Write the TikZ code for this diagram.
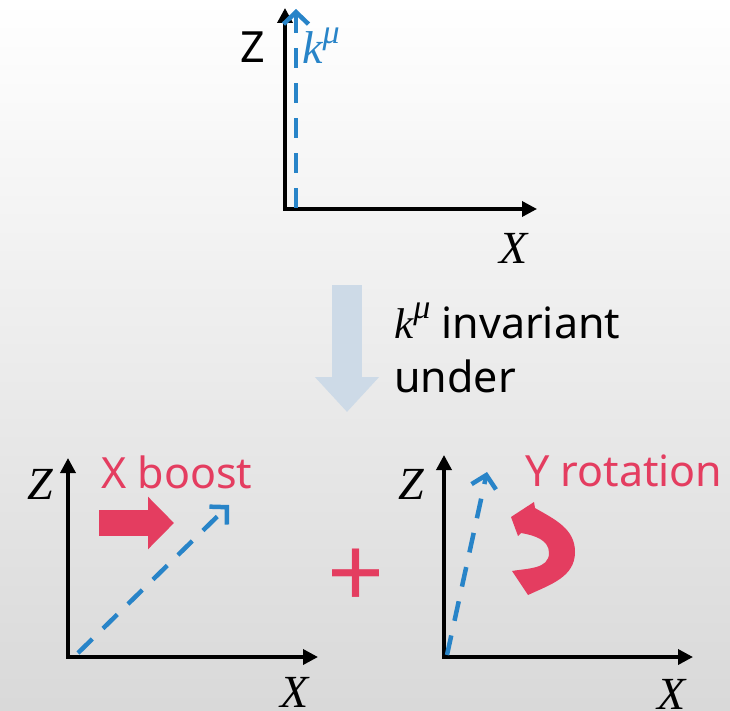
\documentclass[tikz,border=0pt]{standalone}
\usepackage{fontspec}
\setmainfont{Noto Sans}
\newfontfamily\ital{Liberation Serif}
\usetikzlibrary{arrows.meta,positioning}
\definecolor{ink}{gray}{0.0}
\definecolor{vecblue}{RGB}{40,132,200}
\definecolor{hot}{RGB}{228,61,96}
\definecolor{pale}{RGB}{205,218,231}
\definecolor{bgbot}{gray}{0.85}
\tikzset{
  axes/.style={draw=ink, line width=3.5pt, line join=miter,
               {Triangle[length=15pt,width=15pt]}-{Triangle[length=15pt,width=15pt]}},
  vec/.style={draw=vecblue, line width=4.5pt, dash pattern=on 20pt off 15pt,
              -{Straight Barb[length=12pt,width=25pt]}},
  sans/.style={font=\fontsize{43}{54}\selectfont, inner sep=0pt},
  var/.style={font=\fontsize{46}{50}\selectfont\ital\itshape, inner sep=0pt},
  tag/.style={sans, text=hot},
}
\newcommand{\kmu}{{\ital\itshape k\raisebox{0.45em}{\fontsize{34}{34}\selectfont μ}}}

\begin{document}
\begin{tikzpicture}[x=1pt, y=1pt]
  \fill[top color=white, bottom color=bgbot] (0,0) rectangle (730,-711);
  \useasboundingbox (0,0) rectangle (730,-711);

  % top frame
  \coordinate (o1) at (285,-209);
  \coordinate (z1) at (285,-8);
  \coordinate (x1) at (537,-209);
  \coordinate (k0) at (296,-208);
  \coordinate (k1) at (296,-9);
  \draw[axes] (z1) -- (o1) -- (x1);
  \draw[vec] (k0) -- (k1);
  \node[sans] (zt) at (253,-47) {Z};
  \node[var, text=vecblue, anchor=base west] (kt) at (302,-64) {\kmu};
  \node[var] (xt) at (514,-248) {X};

  % down arrow + caption
  \coordinate (a0) at (347,-285);
  \coordinate (a1) at (347,-412);
  \draw[pale, line width=30pt, -{Triangle[length=35pt,width=62pt]}] (a0) -- (a1);
  \node[sans, anchor=base west, align=left] (inv) at (394,-392) {\kmu{} invariant\\under};

  % boost frame
  \coordinate (o2) at (68,-657);
  \coordinate (z2) at (68,-458);
  \coordinate (x2) at (318,-657);
  \coordinate (b0) at (78,-653);
  \coordinate (b1) at (229,-505);
  \draw[axes] (z2) -- (o2) -- (x2);
  \draw[vec] (b0) -- (b1);
  \node[var] (zl) at (40,-484) {Z};
  \node[var] (xl) at (295,-692) {X};
  \node[tag, anchor=base west] (boost) at (101,-488) {X boost};
  \coordinate (p0) at (99,-523);
  \coordinate (p1) at (174,-523);
  \draw[hot, line width=26pt, -{Triangle[length=26pt,width=51pt]}] (p0) -- (p1);

  \node[tag, font=\fontsize{100}{100}\selectfont] (plus) at (356,-579) {+};

  % rotation frame
  \coordinate (o3) at (444,-657);
  \coordinate (z3) at (444,-455);
  \coordinate (x3) at (693,-657);
  \coordinate (r0) at (447,-655);
  \coordinate (r1) at (487,-472);
  \draw[axes] (z3) -- (o3) -- (x3);
  \draw[vec] (r0) -- (r1);
  \node[var] (zr) at (411,-484) {Z};
  \node[var] (xr) at (672,-694) {X};
  \node[tag, anchor=base west] (rot) at (525,-486) {Y rotation};
  \fill[hot] (528,-595) to[out=25,in=-90] (575,-552) to[out=90,in=-30] (535,-508)
    -- (534,-502) -- (511,-517) -- (518,-536) -- (521,-533)
    to[out=-10,in=90] (549,-553) to[out=-90,in=10] (512,-571) -- cycle;
\end{tikzpicture}
\end{document}
